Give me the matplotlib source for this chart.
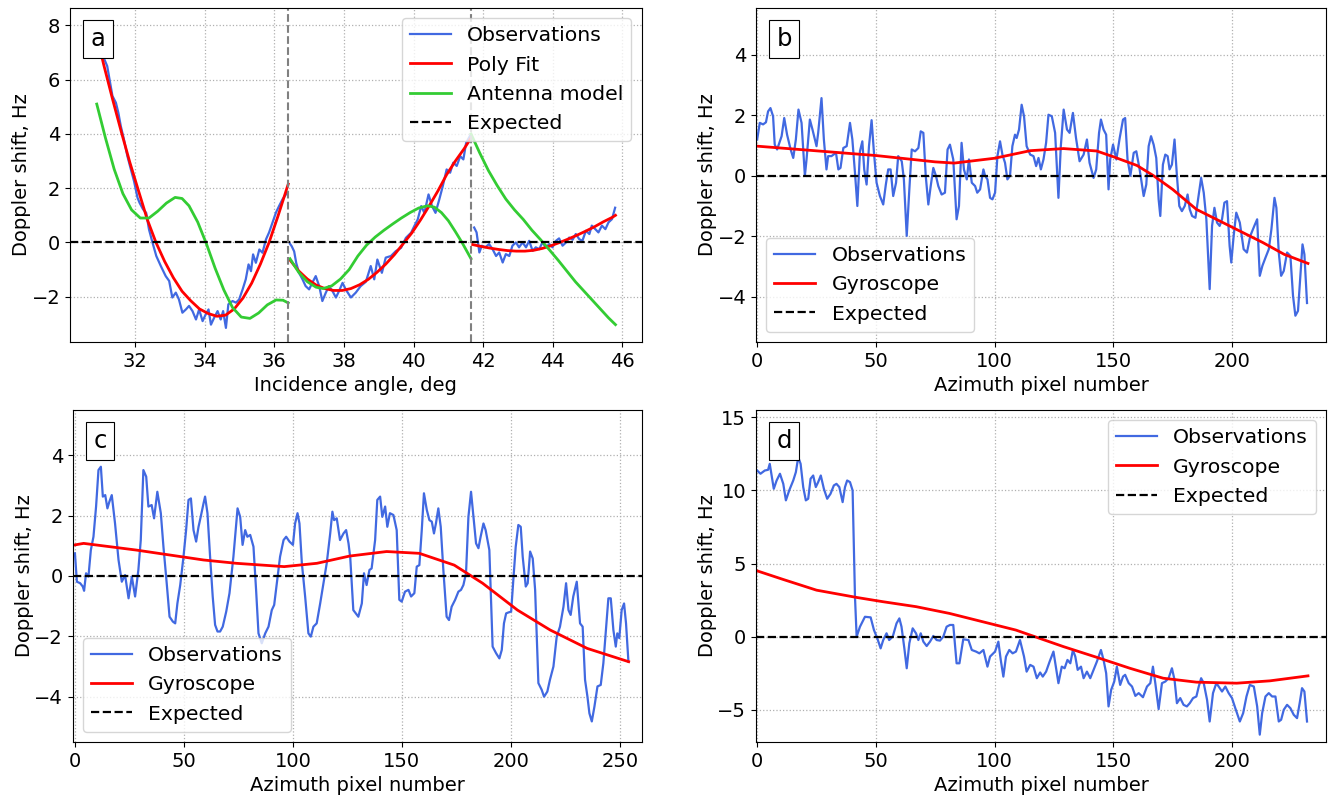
import matplotlib.pyplot as plt

# ---- panel a: incidence angle scan, three beams ----
a_obs1_x = [30.85, 30.95, 31.07, 31.2, 31.35, 31.45, 31.52, 31.59, 31.68, 31.78, 31.88, 31.97,
            32.07, 32.13, 32.23, 32.32, 32.4, 32.5, 32.61, 32.74, 32.88, 32.98, 33.07, 33.17,
            33.26, 33.36, 33.46, 33.55, 33.65, 33.75, 33.84, 33.94, 34.03, 34.11, 34.18, 34.27,
            34.37, 34.46, 34.53, 34.61, 34.68, 34.8, 34.9, 34.99, 35.09, 35.18, 35.26, 35.33,
            35.39, 35.47, 35.57, 35.66, 35.76, 35.85, 35.95, 36.05, 36.14, 36.24, 36.34, 36.38]
a_obs1_y = [8.0, 7.4, 6.9, 6.5, 5.4, 5.15, 4.78, 4.29, 3.8, 3.18, 2.69, 2.26,
            1.65, 1.46, 1.22, 1.09, 0.48, 0.0, -0.5, -0.87, -1.24, -1.42, -2.03, -1.85,
            -2.1, -2.59, -2.47, -2.34, -2.53, -2.84, -2.47, -2.9, -2.65, -2.47, -3.03, -2.78,
            -2.53, -2.84, -2.53, -3.15, -2.28, -2.16, -2.22, -2.1, -1.73, -1.36, -0.81, -1.06,
            -0.44, -0.75, -0.26, -0.38, 0.11, 0.37, 0.74, 1.11, 1.35, 1.6, 1.78, 1.85]
a_obs2_x = [36.45, 36.5, 36.57, 36.63, 36.71, 36.81, 36.9, 37.0, 37.09, 37.19, 37.29, 37.38,
            37.48, 37.57, 37.67, 37.77, 37.86, 37.96, 38.05, 38.2, 38.34, 38.48, 38.63, 38.77,
            38.87, 38.96, 39.09, 39.2, 39.35, 39.49, 39.64, 39.78, 39.93, 40.02, 40.12, 40.22,
            40.31, 40.43, 40.53, 40.63, 40.74, 40.84, 40.95, 41.05, 41.14, 41.24, 41.34, 41.43,
            41.51, 41.63]
a_obs2_y = [-0.05, -0.14, -0.33, -0.76, -1.12, -1.36, -1.61, -1.73, -1.49, -1.24, -1.61, -2.16,
            -1.85, -1.61, -1.79, -2.03, -1.79, -1.49, -1.73, -2.03, -1.85, -1.61, -1.45, -0.87,
            -1.36, -0.63, -1.12, -0.56, -0.5, -0.32, -0.2, 0.17, 0.36, 0.6, 0.85, 1.34,
            1.09, 1.77, 1.34, 1.09, 1.59, 2.08, 2.69, 2.57, 2.94, 2.82, 3.18, 3.06,
            3.67, 3.95]
a_obs3_x = [41.74, 41.81, 41.89, 41.96, 42.06, 42.17, 42.27, 42.37, 42.46, 42.56, 42.65, 42.75,
            42.84, 42.94, 43.03, 43.13, 43.23, 43.32, 43.42, 43.51, 43.61, 43.7, 43.8, 43.9,
            43.99, 44.09, 44.18, 44.28, 44.38, 44.47, 44.57, 44.66, 44.76, 44.85, 44.95, 45.05,
            45.12, 45.22, 45.31, 45.41, 45.51, 45.6, 45.7, 45.79]
a_obs3_y = [0.55, 0.37, -0.37, -0.12, -0.18, -0.06, -0.25, -0.5, -0.37, -0.74, -0.43, -0.5,
            -0.12, 0.0, -0.18, 0.0, -0.18, 0.06, -0.31, -0.18, -0.25, 0.0, -0.18, -0.06,
            -0.18, 0.06, 0.15, -0.12, 0.0, 0.18, 0.1, 0.31, 0.12, 0.06, 0.43, 0.31,
            0.62, 0.49, 0.37, 0.62, 0.49, 0.74, 0.86, 1.28]

a_fit1_x = [30.85, 31.1, 31.35, 31.6, 31.85, 32.1, 32.35, 32.6, 32.85, 33.1, 33.35, 33.6,
            33.85, 34.1, 34.35, 34.6, 34.85, 35.1, 35.35, 35.6, 35.85, 36.1, 36.4]
a_fit1_y = [7.9, 6.55, 5.3, 4.1, 2.95, 1.9, 0.85, 0.0, -0.7, -1.3, -1.8, -2.15,
            -2.45, -2.62, -2.72, -2.68, -2.45, -2.05, -1.5, -0.8, 0.0, 0.95, 2.15]
a_fit2_x = [36.45, 36.7, 36.95, 37.2, 37.45, 37.7, 37.95, 38.2, 38.45, 38.7, 38.95, 39.2,
            39.45, 39.7, 39.95, 40.2, 40.45, 40.7, 40.95, 41.2, 41.45, 41.65]
a_fit2_y = [-0.65, -1.05, -1.35, -1.57, -1.7, -1.77, -1.77, -1.7, -1.56, -1.36, -1.1, -0.8,
            -0.45, -0.05, 0.35, 0.83, 1.35, 1.9, 2.5, 3.0, 3.45, 3.85]
a_fit3_x = [41.7, 41.95, 42.2, 42.45, 42.7, 42.95, 43.2, 43.45, 43.7, 43.95, 44.2, 44.45,
            44.7, 44.95, 45.2, 45.45, 45.7, 45.8]
a_fit3_y = [-0.08, -0.15, -0.21, -0.26, -0.3, -0.32, -0.32, -0.29, -0.22, -0.12, 0.0, 0.13,
            0.27, 0.42, 0.58, 0.76, 0.92, 1.0]

a_ant1_x = [30.9, 31.15, 31.4, 31.65, 31.9, 32.15, 32.4, 32.65, 32.9, 33.15, 33.35, 33.55,
            33.8, 34.05, 34.3, 34.55, 34.8, 35.05, 35.3, 35.55, 35.8, 36.05, 36.25, 36.4]
a_ant1_y = [5.1, 3.85, 2.7, 1.8, 1.2, 0.9, 0.9, 1.15, 1.45, 1.66, 1.62, 1.35,
            0.75, -0.05, -0.95, -1.75, -2.4, -2.75, -2.8, -2.6, -2.3, -2.12, -2.13, -2.23]
a_ant2_x = [36.45, 36.7, 36.95, 37.2, 37.4, 37.65, 37.9, 38.15, 38.4, 38.65, 38.9, 39.15,
            39.4, 39.65, 39.9, 40.15, 40.4, 40.6, 40.8, 41.0, 41.2, 41.4, 41.65]
a_ant2_y = [-0.6, -1.1, -1.45, -1.65, -1.7, -1.6, -1.35, -1.0, -0.5, -0.1, 0.2, 0.45,
            0.68, 0.9, 1.1, 1.27, 1.35, 1.3, 1.1, 0.8, 0.4, -0.02, -0.6]
a_ant3_x = [41.65, 41.9, 42.15, 42.4, 42.65, 42.9, 43.15, 43.4, 43.65, 43.9, 44.15, 44.4,
            44.65, 44.9, 45.15, 45.4, 45.6, 45.8]
a_ant3_y = [4.0, 3.3, 2.65, 2.1, 1.6, 1.2, 0.85, 0.45, 0.1, -0.27, -0.65, -1.05,
            -1.45, -1.8, -2.15, -2.5, -2.78, -3.03]

a_beam_edges = [36.4, 41.65]

# ---- panel b ----
b_obs_x = [0, 1.1, 2.5, 3.7, 4.6, 5.6, 6.7, 7.4, 8.4, 10.3, 11.4, 12.6, 14.1, 15.2, 16.3, 17.4,
           18.7, 20.1, 20.8, 22.2, 23.3, 25.0, 25.7, 27.1, 28.1, 29.2, 29.9, 31.3, 33.2, 34.2,
           35.1, 36.3, 37.7, 39.1, 40.1, 41.2, 42.2, 43.3, 44.3, 45.1, 46.1, 47.1, 48.2, 49.2,
           50.3, 51.7, 53.1, 54.2, 55.2, 56.2, 57.3, 58.5, 59.4, 60.9, 61.8, 63.0, 64.1, 65.1,
           66.5, 67.9, 68.9, 70.0, 71.0, 72.1, 73.1, 74.2, 75.3, 76.3, 77.7, 79.1, 80.2, 81.2,
           82.6, 84.0, 85.0, 86.1, 87.1, 88.3, 89.2, 90.4, 91.8, 92.7, 93.9, 95.3, 96.0, 97.0,
           98.1, 99.1, 100.2, 101.2, 102.3, 103.3, 104.4, 105.4, 106.5, 107.5, 108.6, 109.3,
           110.3, 111.4, 112.4, 113.5, 115.0, 116.4, 117.5, 118.5, 119.5, 120.6, 121.7, 122.7,
           124.1, 125.5, 126.9, 127.9, 129.1, 130.5, 131.6, 133.0, 134.3, 135.8, 137.5, 138.9,
           140.0, 141.7, 142.8, 144.0, 144.8, 145.9, 147.0, 148.0, 148.7, 149.9, 151.3, 152.7,
           154.1, 155.0, 156.0, 157.2, 158.6, 159.7, 161.1, 162.8, 163.9, 164.9, 165.9, 167.0,
           168.1, 169.1, 169.8, 170.9, 171.9, 172.9, 173.7, 174.7, 175.8, 176.8, 177.8, 178.9,
           180.1, 181.3, 182.2, 183.2, 184.6, 186.0, 187.0, 188.1, 189.2, 190.6, 191.6, 192.6,
           193.7, 194.8, 195.8, 196.8, 197.9, 199.0, 199.7, 200.7, 201.8, 203.3, 204.9, 206.3,
           207.7, 209.4, 210.6, 211.7, 212.8, 214.1, 215.5, 216.6, 217.9, 218.7, 219.7, 220.7,
           221.8, 223.2, 224.6, 225.7, 226.7, 227.8, 228.8, 229.7, 230.5, 231.6]
b_obs_y = [1.2, 1.75, 1.7, 1.77, 2.13, 2.24, 1.97, 1.03, 0.87, 1.31, 1.91, 1.36, 0.87, 0.59, 1.2,
           2.19, 1.75, 0.0, 0.54, 1.86, 1.53, 0.98, 1.42, 2.57, 1.2, 0.21, 0.65, 0.65, 0.76,
           0.21, 0.26, 0.92, 0.98, 1.75, 1.2, 0.1, -1.0, 0.81, 1.14, 0.21, -0.29, 0.98, 1.84,
           0.76, -0.23, -0.67, -0.95, -0.29, 0.21, 0.21, -0.67, -0.23, 0.65, 0.48, -0.12, -1.99,
           -0.45, 0.87, 0.81, 0.92, 1.47, 1.42, 0.0, -0.95, -0.34, 0.26, 0.0, -0.34, -0.62,
           -0.56, 0.87, 1.03, 0.54, -1.44, -1.0, 1.09, 0.21, -0.12, 0.54, -0.23, -0.34, -0.56,
           -0.45, 0.21, 0.0, -0.12, -0.73, -0.78, -0.56, 0.65, 1.14, 0.7, 0.43, -0.12, 0.0,
           0.98, 1.36, 1.25, 1.53, 2.35, 1.97, 0.98, 0.7, 0.65, 0.32, 0.59, 0.21, 0.54, 1.09,
           2.02, 1.97, 1.42, -0.73, 0.98, 2.19, 1.53, 1.42, 2.08, 1.25, 0.48, 0.7, 1.2, 0.43,
           -0.07, 0.21, 1.42, 1.86, 1.53, 1.36, -0.45, 0.54, 1.03, 0.54, 1.25, 1.86, 1.91, 0.54,
           0.0, 0.76, 0.81, 0.21, -0.67, -0.29, 0.98, 1.31, 1.03, 0.59, -0.78, -1.33, 0.37,
           0.7, 0.65, 0.21, 0.37, 1.2, 0.0, -1.0, -1.17, -1.0, -0.62, -1.11, -1.33, -1.39,
           -0.62, -0.07, -0.56, -1.44, -3.75, -1.66, -1.06, -1.55, -1.66, -1.44, -0.89, -0.84,
           -2.32, -2.87, -1.99, -1.22, -1.55, -2.43, -2.54, -1.99, -1.66, -1.44, -3.31, -2.98,
           -2.71, -2.43, -1.77, -0.73, -1.06, -2.54, -3.31, -3.15, -2.54, -2.65, -3.97, -4.63,
           -4.47, -3.31, -2.27, -2.6, -4.21]
b_gyro_x = [0, 50, 75, 83, 100, 115, 129, 143, 150, 160, 167, 175, 185, 199, 213, 222, 232]
b_gyro_y = [0.98, 0.67, 0.46, 0.42, 0.58, 0.83, 0.9, 0.82, 0.63, 0.34, 0.0, -0.45, -1.11,
            -1.66, -2.21, -2.6, -2.9]

# ---- panel c ----
c_obs_x = [0, 0.9, 2.4, 3.6, 4.2, 5.1, 6.2, 7.3, 8.5, 9.7, 10.8, 11.9, 12.8, 13.9, 14.9, 15.8,
           16.9, 18.4, 20.0, 21.5, 23.0, 24.6, 26.1, 27.6, 29.1, 30.2, 31.4, 32.7, 33.7, 35.2,
           36.3, 37.8, 39.4, 40.6, 42.1, 43.4, 44.9, 46.0, 47.0, 48.3, 49.8, 51.0, 52.1, 53.2,
           54.4, 55.6, 56.7, 57.7, 59.0, 59.7, 60.8, 62.0, 63.2, 64.3, 65.4, 66.6, 67.8, 69.4,
           70.9, 72.7, 74.6, 75.8, 76.9, 78.1, 79.1, 80.4, 81.9, 83.1, 84.2, 85.7, 87.3, 88.8,
           90.3, 91.4, 92.6, 94.1, 95.7, 96.9, 98.4, 100.0, 101.0, 102.1, 103.0, 104.1, 105.6,
           107.1, 108.2, 109.4, 110.9, 112.5, 114.0, 115.5, 117.1, 118.1, 118.9, 120.1, 121.6,
           123.2, 124.4, 125.5, 126.3, 127.7, 130.0, 131.6, 132.6, 133.8, 135.1, 136.1, 137.7,
           138.7, 140.0, 141.0, 142.3, 143.3, 144.5, 146.1, 147.6, 148.8, 149.9, 151.4, 153.0,
           154.2, 155.7, 156.8, 158.0, 159.1, 160.1, 161.4, 162.6, 163.7, 164.7, 165.6, 166.7,
           167.8, 169.0, 170.5, 171.6, 172.8, 174.4, 175.9, 177.1, 178.2, 179.4, 180.5, 181.7,
           182.8, 184.0, 185.1, 186.1, 187.4, 188.4, 190.1, 191.6, 193.2, 194.7, 195.8, 196.8,
           197.8, 198.8, 200.1, 201.1, 202.2, 203.4, 204.5, 205.4, 206.8, 207.7, 208.8, 210.0,
           211.1, 212.6, 214.1, 215.2, 216.7, 217.9, 219.5, 221.0, 222.5, 224.1, 225.3, 226.4,
           227.4, 228.6, 230.2, 231.7, 232.9, 234.0, 235.1, 236.0, 237.1, 238.3, 239.7, 241.2,
           242.4, 243.6, 244.7, 245.8, 247.0, 248.1, 248.8, 249.7, 250.8, 251.9, 252.8, 253.9]
c_obs_y = [0.75, -0.19, -0.24, -0.35, -0.49, 0.09, -0.02, 0.86, 1.3, 2.3, 3.51, 3.62, 2.63,
           2.68, 2.24, 2.46, 2.68, 1.74, 0.53, -0.19, 0.03, -0.74, -0.02, -0.68, 0.2, 1.19,
           3.51, 3.29, 2.3, 2.35, 1.91, 2.79, 2.08, 0.97, -0.24, -1.35, -1.51, -1.57, -0.91,
           -0.3, 0.64, 1.52, 2.52, 2.57, 1.52, 1.14, 1.63, 1.96, 2.41, 2.63, 2.08, 0.64, -0.68,
           -1.62, -1.84, -1.84, -1.68, -1.18, -0.57, 0.64, 2.24, 1.96, 1.03, 1.52, 1.3, 1.36,
           0.97, -0.46, -1.9, -2.23, -1.9, -1.68, -1.13, -0.96, -0.24, 0.64, 1.19, 1.3, 1.14,
           1.03, 1.74, 2.08, 1.74, 0.42, -0.68, -1.9, -2.01, -1.68, -1.57, -0.91, -0.24, 0.42,
           1.41, 2.13, 1.85, 1.91, 1.19, 1.41, 1.52, 1.08, 0.6, -1.13, -1.35, -0.91, 0.09,
           -0.3, 0.2, 0.25, 1.19, 2.52, 2.63, 1.96, 2.3, 1.63, 2.08, 2.02, 1.52, -0.79, -0.85,
           -0.52, -0.46, -0.68, -0.57, 0.31, 0.36, 1.52, 2.74, 2.19, 1.85, 1.8, 1.41, 1.74,
           2.24, 1.63, 0.2, -1.35, -1.46, -1.02, -0.79, -0.52, -0.46, -0.3, 0.09, 1.96, 2.79,
           1.96, 1.08, 0.92, 1.3, 1.74, 1.52, 0.86, -2.34, -2.56, -2.73, -2.45, -1.57, -1.24,
           -1.21, -1.18, -0.13, 0.97, 1.69, 1.63, 0.64, -0.35, -0.24, 0.81, 0.58, -0.46, -3.55,
           -3.77, -4.0, -3.83, -3.44, -3.0, -2.01, -1.68, -1.02, -0.24, -1.13, -1.29, -0.68,
           -0.19, -1.57, -1.68, -3.44, -4.0, -4.55, -4.82, -4.33, -3.66, -3.61, -2.89, -1.79,
           -0.74, -0.74, -1.79, -2.34, -1.9, -2.06, -1.13, -0.91, -1.57, -2.84]
c_gyro_x = [0, 4, 28, 59, 74, 96, 111, 126, 143, 158, 174, 187, 203, 218, 235, 254]
c_gyro_y = [1.03, 1.08, 0.86, 0.53, 0.42, 0.31, 0.42, 0.66, 0.81, 0.75, 0.36, -0.24, -1.13,
            -1.79, -2.4, -2.84]

# ---- panel d ----
d_obs_x = [0, 1.4, 3.2, 4.6, 5.3, 7.0, 8.2, 9.6, 11.0, 12.1, 13.5, 15.2, 16.3, 17.3, 18.3,
           19.4, 20.5, 21.5, 22.5, 23.6, 24.7, 25.7, 26.8, 28.1, 29.5, 30.9, 32.3, 33.4, 34.6,
           36.0, 37.0, 37.9, 39.1, 40.2, 41.2, 41.9, 43.3, 45.4, 47.8, 49.2, 50.6, 52.0, 53.1,
           54.5, 55.6, 57.1, 58.7, 59.9, 60.8, 62.0, 63.0, 64.1, 65.5, 66.9, 67.9, 68.9, 70.0,
           71.4, 72.8, 74.2, 75.6, 77.0, 78.4, 79.8, 81.2, 82.6, 84.0, 85.2, 86.8, 89.0, 90.4,
           92.2, 93.6, 95.3, 97.0, 98.1, 100.2, 101.6, 102.6, 103.7, 104.8, 106.2, 107.6,
           109.0, 110.7, 112.4, 113.5, 115.0, 116.4, 117.8, 119.2, 120.3, 121.7, 123.2, 124.8,
           126.0, 126.9, 128.3, 129.5, 130.7, 131.9, 133.0, 134.0, 135.0, 136.4, 137.5, 138.9,
           140.3, 141.7, 143.1, 144.8, 145.9, 147.0, 148.0, 149.1, 150.4, 151.5, 152.9, 154.1,
           155.0, 156.5, 157.9, 159.3, 160.7, 162.5, 164.2, 165.6, 166.7, 167.7, 169.1, 170.5,
           171.9, 173.3, 174.7, 175.8, 176.8, 178.2, 179.6, 181.0, 182.2, 183.6, 185.0, 186.0,
           187.0, 188.1, 189.5, 190.6, 192.0, 193.4, 194.4, 195.8, 197.2, 198.6, 200.0, 201.4,
           203.3, 204.7, 206.1, 207.5, 209.2, 210.6, 211.7, 212.7, 214.1, 215.5, 216.9, 218.3,
           219.7, 220.7, 221.8, 223.2, 224.6, 226.0, 227.4, 228.5, 229.5, 230.5, 231.6]
d_obs_y = [11.36, 11.14, 11.36, 11.41, 11.82, 10.11, 10.68, 11.14, 10.45, 9.32, 10.0, 10.68,
           11.25, 12.27, 11.82, 10.23, 9.32, 9.43, 10.8, 11.02, 10.23, 10.57, 11.02, 10.11,
           9.43, 9.77, 10.34, 10.45, 10.23, 9.2, 10.23, 10.68, 10.57, 10.0, 2.73, 0.0, 0.68,
           1.36, 1.32, 0.45, -0.11, -0.8, -0.23, 0.23, -0.23, 0.0, 0.91, 1.25, 0.68, -0.8,
           -2.16, -0.45, 0.57, 0.23, -0.23, 0.23, -0.34, -0.64, -0.34, 0.05, -0.23, -0.27, 0.0,
           0.68, 0.8, 0.8, -1.82, -1.82, -0.18, -0.23, -0.91, -1.02, -1.14, -0.91, -2.05, -1.36,
           -1.02, -0.34, -1.59, -2.73, -1.36, -0.91, -1.14, -1.02, -0.23, -1.36, -2.39, -1.93,
           -2.05, -2.84, -2.45, -2.73, -2.39, -1.7, -1.02, -2.27, -3.18, -2.05, -2.16, -1.59,
           -1.82, -0.91, -1.36, -2.27, -2.05, -2.84, -2.39, -2.84, -2.27, -1.7, -0.91, -1.59,
           -2.5, -4.77, -3.64, -3.07, -2.05, -3.3, -2.73, -2.61, -3.18, -3.41, -4.05, -3.86,
           -4.14, -3.41, -3.18, -2.05, -3.18, -4.95, -3.18, -3.07, -2.84, -2.16, -2.95, -4.55,
           -4.2, -4.66, -4.77, -4.55, -4.2, -4.09, -3.41, -2.84, -3.18, -4.32, -5.8, -3.86,
           -3.18, -3.41, -3.75, -3.41, -3.86, -4.2, -4.89, -5.8, -5.23, -4.09, -3.3, -3.41,
           -4.77, -6.7, -5.23, -4.09, -3.86, -4.09, -4.09, -5.8, -5.68, -5.0, -4.66, -4.89,
           -5.34, -5.57, -4.55, -3.52, -3.75, -5.8]
d_gyro_x = [0, 11, 25, 42, 53, 67, 81, 95, 109, 115, 129, 143, 157, 171, 185, 202, 216, 232]
d_gyro_y = [4.5, 3.91, 3.18, 2.68, 2.39, 2.05, 1.59, 1.02, 0.45, 0.11, -0.68, -1.41, -2.16,
            -2.84, -3.11, -3.18, -3.02, -2.68]

OBS_C = '#4169E1'
FIT_C = 'red'
ANT_C = '#33CC33'
FS = 14
LEG_FS = 14.7

plt.rcParams['font.size'] = FS

fig = plt.figure(figsize=(13.3, 7.95), dpi=100)
ax_a = fig.add_axes([0.0526, 0.5698, 0.4298, 0.4201])
ax_b = fig.add_axes([0.5684, 0.5698, 0.4286, 0.4201])
ax_c = fig.add_axes([0.0547, 0.0667, 0.4278, 0.4176])
ax_d = fig.add_axes([0.5684, 0.0667, 0.4286, 0.4176])


def panel_tag(ax, letter):
    ax.text(0.036, 0.943, letter, transform=ax.transAxes, ha='left', va='top',
            fontsize=17.5, zorder=10,
            bbox=dict(boxstyle='square,pad=0.3', fc='white', ec='black', lw=0.8))


# panel a
ax = ax_a
ax.plot(a_obs1_x, a_obs1_y, color=OBS_C, lw=1.6, label='Observations')
ax.plot(a_obs2_x, a_obs2_y, color=OBS_C, lw=1.6)
ax.plot(a_obs3_x, a_obs3_y, color=OBS_C, lw=1.6)
ax.plot(a_fit1_x, a_fit1_y, color=FIT_C, lw=2, label='Poly Fit')
ax.plot(a_fit2_x, a_fit2_y, color=FIT_C, lw=2)
ax.plot(a_fit3_x, a_fit3_y, color=FIT_C, lw=2)
ax.plot(a_ant1_x, a_ant1_y, color=ANT_C, lw=2, label='Antenna model')
ax.plot(a_ant2_x, a_ant2_y, color=ANT_C, lw=2)
ax.plot(a_ant3_x, a_ant3_y, color=ANT_C, lw=2)
ax.axhline(0, color='black', ls='--', lw=1.6, label='Expected')
for xe in a_beam_edges:
    ax.axvline(xe, color='gray', ls='--', lw=1.5)
ax.set_xlim(30.13, 46.55)
ax.set_ylim(-3.67, 8.64)
ax.set_xlabel('Incidence angle, deg')
ax.set_ylabel('Doppler shift, Hz')
ax.legend(loc='upper right', fontsize=LEG_FS)
panel_tag(ax, 'a')

# panels b, c, d
for ax, ox, oy, gx, gy, letter, loc in [
        (ax_b, b_obs_x, b_obs_y, b_gyro_x, b_gyro_y, 'b', 'lower left'),
        (ax_c, c_obs_x, c_obs_y, c_gyro_x, c_gyro_y, 'c', 'lower left'),
        (ax_d, d_obs_x, d_obs_y, d_gyro_x, d_gyro_y, 'd', 'upper right')]:
    ax.plot(ox, oy, color=OBS_C, lw=1.6, label='Observations')
    ax.plot(gx, gy, color=FIT_C, lw=2, label='Gyroscope')
    ax.axhline(0, color='black', ls='--', lw=1.6, label='Expected')
    ax.set_xlabel('Azimuth pixel number')
    ax.set_ylabel('Doppler shift, Hz')
    ax.legend(loc=loc, fontsize=LEG_FS)
    panel_tag(ax, letter)

ax_b.set_xlim(-0.5, 239.6)
ax_b.set_ylim(-5.5, 5.55)
ax_c.set_xlim(-1, 260)
ax_c.set_ylim(-5.5, 5.5)
ax_d.set_xlim(-0.5, 239.6)
ax_d.set_ylim(-7.2, 15.5)

for ax in (ax_a, ax_b, ax_c, ax_d):
    ax.grid(True, ls=':', color='#b0b0b0', lw=0.9)
    ax.set_axisbelow(True)
    ax.yaxis.labelpad = 0.5

fig.savefig('out.png', dpi=100)
